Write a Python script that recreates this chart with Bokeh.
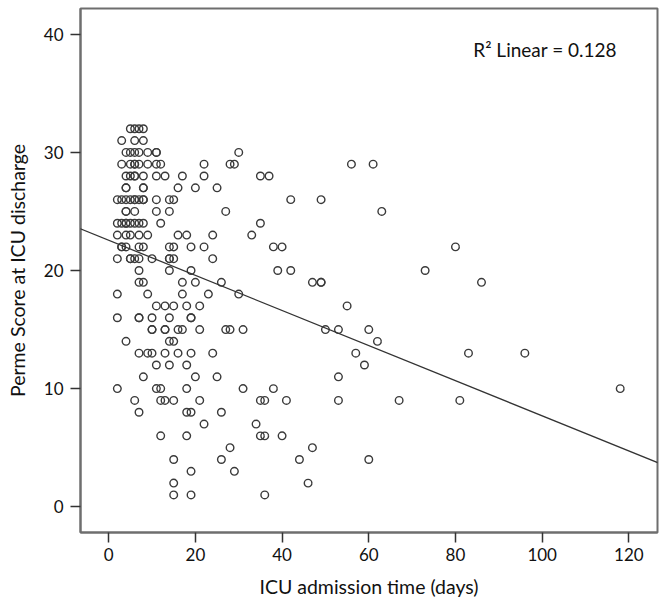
from bokeh.plotting import figure
from bokeh.models import Range1d, Slope, Label, FixedTicker
from bokeh.embed import file_html
from bokeh.resources import INLINE

# ICU admission time (days) and Perme score at ICU discharge, read row by row (score 32 -> 1)
icu_days = [
    5, 6, 7, 8,
    3, 6, 8,
    4, 5, 6, 7, 9, 11, 11, 30,
    3, 5, 6, 6, 7, 9, 11, 12, 22, 28, 29, 56, 61,
    4, 5, 6, 6, 8, 11, 13, 17, 22, 35, 37,
    4, 4, 8, 8, 16, 20, 25,
    2, 3, 4, 5, 6, 6, 7, 8, 8, 11, 14, 15, 42, 49,
    4, 4, 6, 11, 14, 27, 63,
    2, 3, 4, 4, 5, 6, 7, 8, 12, 35,
    2, 4, 5, 7, 9, 16, 18, 24, 33,
    3, 3, 4, 7, 8, 14, 15, 19, 22, 38, 40, 80,
    2, 5, 5, 6, 7, 10, 14, 14, 15, 24,
    7, 14, 19, 39, 42, 73,
    7, 8, 17, 20, 26, 47, 49, 49, 86,
    2, 9, 17, 23, 30,
    11, 13, 15, 18, 21, 55,
    2, 7, 7, 10, 14, 19, 19,
    10, 10, 13, 13, 16, 17, 21, 27, 28, 31, 50, 53, 60,
    4, 14, 15, 62,
    7, 9, 10, 13, 16, 19, 24, 57, 83, 96,
    11, 14, 18, 59,
    8, 20, 25, 53,
    2, 11, 12, 18, 31, 38, 118,
    6, 12, 13, 15, 21, 35, 36, 41, 53, 67, 81,
    7, 18, 19, 26,
    22, 34,
    12, 18, 35, 36, 40,
    28, 47,
    15, 26, 44, 60,
    19, 29,
    15, 46,
    15, 19, 36,
]
perme_score = (
    [32] * 4 + [31] * 3 + [30] * 8 + [29] * 13 + [28] * 11 + [27] * 7 +
    [26] * 14 + [25] * 7 + [24] * 10 + [23] * 9 + [22] * 12 + [21] * 10 +
    [20] * 6 + [19] * 9 + [18] * 5 + [17] * 6 + [16] * 7 + [15] * 13 +
    [14] * 4 + [13] * 10 + [12] * 4 + [11] * 4 + [10] * 7 + [9] * 11 +
    [8] * 4 + [7] * 2 + [6] * 5 + [5] * 2 + [4] * 4 + [3] * 2 + [2] * 2 + [1] * 3
)

# Linear fit line as drawn in the reference
fit_intercept = 22.56
fit_slope = -0.1486
r2_text = "R\u00b2 Linear = 0.128"

x_ticks = [0, 20, 40, 60, 80, 100, 120]
y_ticks = [0, 10, 20, 30, 40]

FONT = "Lato"
FRAME = "#6e6e6e"

p = figure(width=662, height=602, output_backend="svg", toolbar_location=None,
           x_range=Range1d(-6.5, 126.6), y_range=Range1d(-2.18, 42.18),
           min_border_left=80, min_border_right=5, min_border_top=8,
           min_border_bottom=70, background_fill_color="white")

p.xgrid.visible = False
p.ygrid.visible = False
p.outline_line_color = FRAME
p.outline_line_width = 2

p.xaxis.ticker = FixedTicker(ticks=x_ticks)
p.yaxis.ticker = FixedTicker(ticks=y_ticks)
p.xaxis.axis_label = "ICU admission time (days)"
p.yaxis.axis_label = "Perme Score at ICU discharge"

for ax in (p.xaxis, p.yaxis):
    ax.axis_line_color = FRAME
    ax.axis_line_width = 2
    ax.major_tick_line_color = "#333333"
    ax.major_tick_line_width = 1.5
    ax.major_tick_in = 0
    ax.major_tick_out = 10
    ax.minor_tick_line_color = None
    ax.major_label_text_font = FONT
    ax.major_label_text_font_size = "17px"
    ax.major_label_text_color = "#111111"
    ax.axis_label_text_font = FONT
    ax.axis_label_text_font_size = "19.5px"
    ax.axis_label_text_font_style = "normal"
    ax.axis_label_text_color = "#111111"

p.xaxis.major_label_standoff = 5
p.xaxis.axis_label_standoff = 11
p.yaxis.major_label_standoff = 7
p.yaxis.axis_label_standoff = 12

p.scatter(icu_days, perme_score, marker="circle", size=7.6, fill_alpha=0,
          line_color="#3a3a3a", line_width=1.4)

p.add_layout(Slope(gradient=fit_slope, y_intercept=fit_intercept,
                   line_color="#333333", line_width=1.3))

p.add_layout(Label(x=84.1, y=38.7, text=r2_text, text_font=FONT,
                   text_font_size="19px", text_baseline="middle",
                   text_color="#111111"))

open("out.html", "w").write(file_html(p, INLINE))
